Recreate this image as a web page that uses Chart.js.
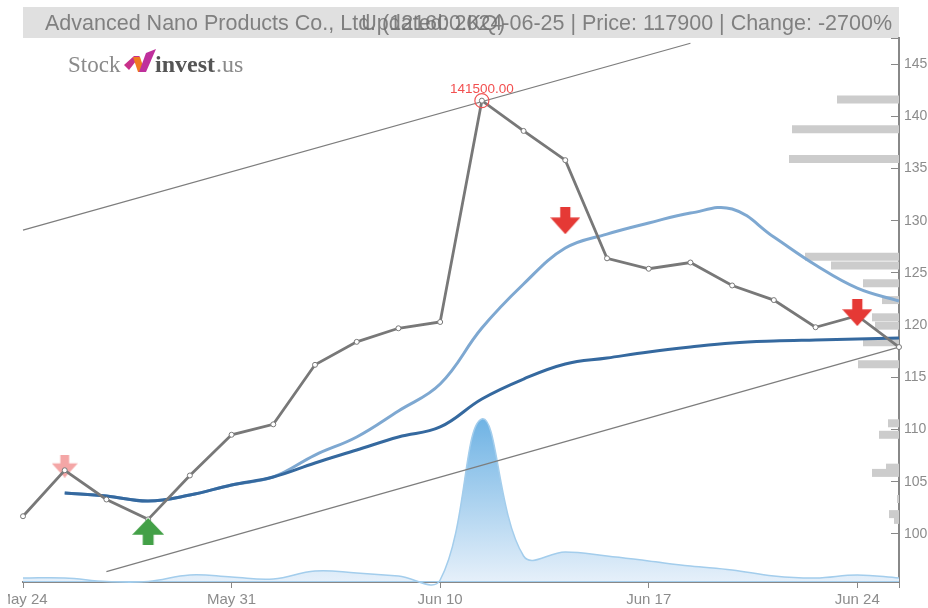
<!DOCTYPE html>
<html><head><meta charset="utf-8">
<style>html,body{margin:0;padding:0;background:#fff;overflow:hidden}
#w{position:absolute;left:8px;top:0;width:920px;height:608px}</style>
<script src="https://cdn.jsdelivr.net/npm/chart.js@4/dist/chart.umd.js"></script>
</head><body><div id="w"><canvas id="c" width="920" height="608"></canvas></div>
<script>
const dates=['May 24','May 27','May 28','May 29','May 30','May 31','Jun 03','Jun 04','Jun 05','Jun 07','Jun 10','Jun 11','Jun 12','Jun 13','Jun 14','Jun 17','Jun 18','Jun 19','Jun 20','Jun 21','Jun 24','Jun 25'];
const labeledDates=['May 24','May 31','Jun 10','Jun 17','Jun 24'];
const priceTicks=[100000,105000,110000,115000,120000,125000,130000,135000,140000,145000];
const price=[101700,106100,103300,101400,105600,109500,110500,116200,118400,119700,120300,141500,138600,135800,126400,125400,126000,123800,122400,119800,120900,117900];
const maFast=[null,103930,103640,103160,103730,104690,105460,107560,109290,111780,114360,119720,123940,127380,128720,129780,130730,131120,128440,125760,123550,122310];
const maSlow=[null,103930,103640,103160,103730,104690,105460,106800,108040,109290,110250,112930,114840,116280,116850,117430,117900,118290,118480,118580,118670,118770];
const volume=[40000,40000,5000,5000,70000,50000,30000,110000,90000,60000,20000,1630000,260000,300000,260000,210000,160000,120000,60000,40000,70000,40000];
const volumeBase=dates.map(()=>0);
const trendUpper=[129100,null,null,null,null,null,null,null,null,null,null,null,null,null,null,null,147000,null,null,null,null,null];
const trendLower=[null,null,96400,null,null,null,null,null,null,null,null,null,null,null,null,null,null,null,null,null,null,117900];
const sellStrong=[null,null,null,null,null,null,null,null,null,null,null,null,null,130000,null,null,null,null,null,null,121200,null];
const sellWeak=[null,106500,null,null,null,null,null,null,null,null,null,null,null,null,null,null,null,null,null,null,null,null];
const buySignal=[null,null,null,100240,null,null,null,null,null,null,null,null,null,null,null,null,null,null,null,null,null,null];
const peak=[null,null,null,null,null,null,null,null,null,null,null,141500,null,null,null,null,null,null,null,null,null,null];
const profileLevels=[141600,138750,135900,126550,125700,124000,122400,120750,119950,118350,116250,110600,109500,106350,105850,103350,101900,101350];
const profileSizes=[62000,107000,110000,94000,68000,36000,17000,27000,24000,36000,41000,11000,20000,13000,27000,2000,10000,5000];
const titleLeft='Advanced Nano Products Co., Ltd. (121600.KQ)';
const titleRight='Updated: 2024-06-25 | Price: 117900 | Change: -2700%';

function arrow(w,h,color,up){
  const c=document.createElement('canvas');c.width=w;c.height=h;const g=c.getContext('2d');
  g.fillStyle=color;g.beginPath();
  const s=w*0.17,hh=h*0.62;
  const pts=[[w/2,h],[0,h-hh],[w/2-s,h-hh],[w/2-s,0],[w/2+s,0],[w/2+s,h-hh],[w,h-hh]];
  pts.forEach(p=>{const y=up?h-p[1]:p[1];g.lineTo(p[0],y)});
  g.closePath();g.fill();return c;
}
function poly(ctx,color,pts){ctx.fillStyle=color;ctx.beginPath();pts.forEach(p=>ctx.lineTo(p[0]-8,p[1]));ctx.closePath();ctx.fill();}
const chrome={id:'chrome',
  beforeDraw(ch){const {ctx,chartArea:a}=ch;ctx.save();ctx.fillStyle='#e0e0e0';ctx.fillRect(a.left,7,a.right-a.left,31);ctx.restore();},
  afterDraw(ch){const {ctx,chartArea:a}=ch;ctx.save();
    ctx.font='21.5px "Liberation Sans"';ctx.fillStyle='rgba(110,110,110,.85)';ctx.textBaseline='alphabetic';
    ctx.textAlign='left';ctx.fillText(titleLeft,37,30);
    ctx.textAlign='right';ctx.fillText(titleRight,884,30);
    const m=ch.getDatasetMeta(ch.data.datasets.findIndex(d=>d.label==='peak'));
    const el=m.data[11];
    ctx.textAlign='center';ctx.font='13.5px "Liberation Sans"';ctx.fillStyle='#f25050';ctx.fillText('141500.00',el.x,el.y-8);
    ctx.textAlign='left';ctx.font='23px "Liberation Serif"';ctx.fillStyle='#8a8a8a';ctx.fillText('Stock',60,72);
    ctx.font='bold 24px "Liberation Serif"';ctx.fillStyle='#555';ctx.fillText('invest',147,72);
    ctx.font='24px "Liberation Serif"';ctx.fillStyle='#8a8a8a';ctx.fillText('.us',208,72);
    poly(ctx,'#c8308a',[[124,65],[134,56],[140,56],[129,70]]);
    poly(ctx,'#f07a20',[[133,57],[140,57],[145,72],[138,72]]);
    poly(ctx,'#bf2f9c',[[146,53],[156,49],[146,72],[139,72]]);
    ctx.restore();}
};
const L=(label,data,extra)=>Object.assign({type:'line',label,data,xAxisID:'x',yAxisID:'y',pointRadius:0,borderWidth:3,fill:false,spanGaps:true,tension:0},extra);
const datasets=[
 ...profileLevels.map((lv,i)=>L('profile'+i,[{x:0,y:lv},{x:profileSizes[i],y:lv}],{xAxisID:'xv',borderColor:'#cccccc',borderWidth:8,order:20})),
 L('volume',volume,{yAxisID:'yv',borderColor:'#a3cdec',borderWidth:1.5,tension:.4,capBezierPoints:false,clip:false,fill:'origin',order:15,
   backgroundColor(ctx){const a=ctx.chart.chartArea;if(!a)return'#cfe3f5';const y=ctx.chart.scales.yv;
     const g=ctx.chart.ctx.createLinearGradient(0,y.getPixelForValue(1630000),0,a.bottom);g.addColorStop(0,'#6fb3e4');g.addColorStop(1,'#e6f0fa');return g;}}),
 L('base',volumeBase,{yAxisID:'yv',borderColor:'#a3cdec',borderWidth:2,order:14}),
 L('trendUpper',trendUpper,{borderColor:'#7d7d7d',borderWidth:1.2,order:12}),
 L('trendLower',trendLower,{borderColor:'#7d7d7d',borderWidth:1.2,order:12}),
 L('maFast',maFast,{borderColor:'#7ea8d1',tension:.4,capBezierPoints:false,order:8}),
 L('maSlow',maSlow,{borderColor:'#35699f',tension:.4,capBezierPoints:false,order:7}),
 L('sellWeak',sellWeak,{showLine:false,pointRadius:10,pointStyle:arrow(26,23,'#f4a6a6',false),order:6}),
 L('price',price,{borderColor:'#787878',borderWidth:2.8,pointRadius:2.5,pointBackgroundColor:'#fff',pointBorderColor:'#787878',pointBorderWidth:1,order:5}),
 L('peak',peak,{showLine:false,pointRadius:7,pointBackgroundColor:'rgba(0,0,0,0)',pointBorderColor:'#ee5555',pointBorderWidth:1.2,order:4}),
 L('sellStrong',sellStrong,{showLine:false,pointRadius:10,pointStyle:arrow(30,27,'#e53935',false),order:3}),
 L('buySignal',buySignal,{showLine:false,pointRadius:10,pointStyle:arrow(32,27,'#43a047',true),order:3})
];
Chart.defaults.font.family='"Liberation Sans"';
new Chart(document.getElementById('c'),{
 type:'line',
 data:{labels:dates,datasets},
 plugins:[chrome],
 options:{responsive:false,animation:false,events:[],
  layout:{padding:{left:15,top:38,right:0,bottom:0}},
  plugins:{legend:{display:false},tooltip:{enabled:false},title:{display:false}},
  scales:{
   x:{type:'category',offset:false,position:'bottom',
     grid:{display:true,drawOnChartArea:false,tickLength:6,tickColor:'#888',tickWidth:1},
     border:{color:'#888',width:2},
     ticks:{autoSkip:false,maxRotation:0,color:'#8c8c8c',font:{size:15},padding:3,
       callback(v){const l=dates[v];return labeledDates.includes(l)?l:'';}},
     afterBuildTicks(s){s.ticks=dates.map((d,i)=>({value:i})).filter(t=>labeledDates.includes(dates[t.value])||t.value===dates.length-1);},
     afterFit(s){s.paddingLeft=0;s.paddingRight=0;s.height=26;}},
   y:{type:'linear',position:'right',min:95400,max:147500,
     grid:{display:true,drawOnChartArea:false,tickLength:-8,tickColor:'#888',tickWidth:1},
     border:{color:'#888',width:2},
     ticks:{color:'#8c8c8c',font:{size:14},padding:13,callback(v){return priceTicks.includes(v)?String(v/1000):'';}},
     afterBuildTicks(s){s.ticks=priceTicks.map(value=>({value})).concat([{value:147500}]);},
     afterFit(s){s.width=29;s.paddingTop=0;s.paddingBottom=0;}},
   yv:{type:'linear',display:false,min:0,max:5440000},
   xv:{type:'linear',display:false,reverse:true,min:0,max:876000}
  }}
});
</script></body></html>
